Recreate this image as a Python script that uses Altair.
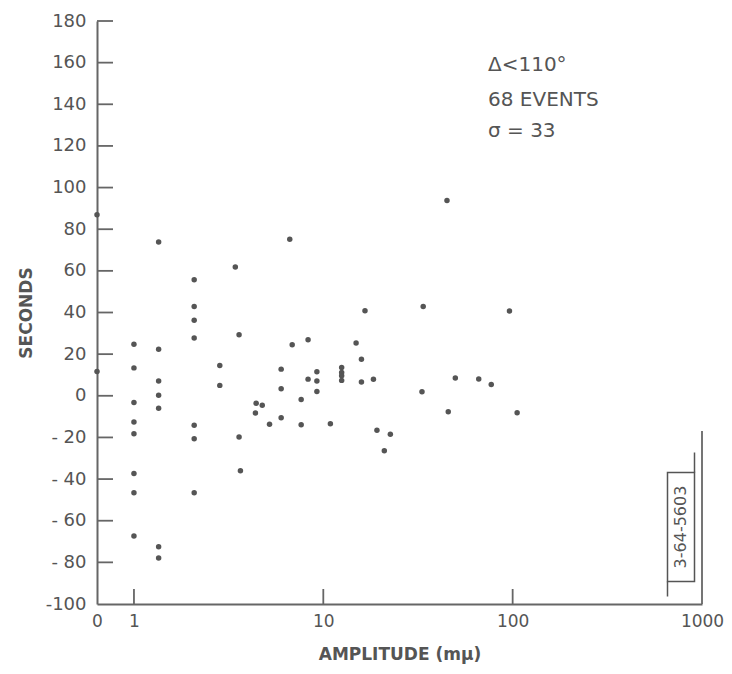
import altair as alt
import pandas as pd

# ---- data ----
amplitude = [
    0, 0,
    1, 1, 1, 1, 1, 1, 1, 1,
    1.35, 1.35, 1.35, 1.35, 1.35, 1.35, 1.35,
    2.08, 2.08, 2.08, 2.08, 2.08, 2.08, 2.08,
    2.84, 2.84,
    3.43, 3.59, 3.59, 3.65,
    4.38, 4.42, 4.76, 5.20,
    5.99, 5.99, 5.99,
    6.65, 6.85,
    7.64, 7.64,
    8.31, 8.31,
    9.25, 9.25, 9.25,
    10.9,
    12.5, 12.5, 12.5, 12.5,
    14.9, 15.9, 15.9, 16.6, 18.4, 19.2, 21.0, 22.6,
    33.2, 33.7, 45.0, 45.7, 49.8, 66.2, 77.1, 96.2, 105.6,
]
seconds = [
    86.9, 11.7,
    24.8, 13.4, -3.2, -12.6, -18.2, -37.3, -46.6, -67.3,
    73.9, 22.4, 7.1, 0.3, -6.0, -72.5, -77.9,
    55.7, 42.9, 36.3, 27.8, -14.2, -20.6, -46.6,
    14.6, 5.0,
    61.8, 29.3, -19.8, -36.0,
    -8.3, -3.6, -4.5, -13.7,
    12.8, 3.4, -10.5,
    75.2, 24.5,
    -1.8, -13.9,
    26.9, 8.0,
    11.5, 7.1, 2.1,
    -13.4,
    13.6, 11.2, 9.6, 7.4,
    25.4, 17.5, 6.6, 40.8, 7.9, -16.5, -26.4, -18.5,
    1.9, 42.9, 93.8, -7.7, 8.5, 8.1, 5.4, 40.7, -8.2,
]

x_label_values = [0.638, 1, 10, 100, 1000]
y_label_values = list(range(-100, 181, 20))
y_tick_values = list(range(-80, 181, 20))
x_tick_values = [1, 10, 100]
note_lines = ["\u0394<110\u00b0", "68 EVENTS", "\u03c3 = 33"]
stamp_text = "3-64-5603"

XMIN = 0.638
W, H = 605, 583
INK = "#555555"
AXC = "#666666"
FONT = "DejaVu Sans"

xscale = alt.Scale(type="log", domain=[XMIN, 1000], nice=False)
yscale = alt.Scale(domain=[-100, 180], nice=False, zero=False)

xaxis = alt.Axis(
    values=x_label_values, title="AMPLITUDE (m\u03bc)", grid=False, ticks=False, tickSize=0,
    labelExpr="datum.value < 0.9 ? '0' : format(datum.value, 'd')",
    labelFlush=False, labelOverlap=False, labelPadding=9, titlePadding=17,
    labelFontSize=17, labelColor=INK, titleFontSize=17, titleFontWeight="bold",
    titleColor=INK, domainColor=AXC, domainWidth=2, labelFont=FONT, titleFont=FONT,
)
yaxis = alt.Axis(
    values=y_label_values, title="SECONDS", grid=False, ticks=False, tickSize=0,
    labelExpr="datum.value < 0 ? (datum.value == -100 ? '-100' : '- ' + abs(datum.value)) : datum.label",
    labelFlush=False, labelOverlap=False, labelPadding=11, titlePadding=10,
    labelFontSize=18, labelColor=INK, titleFontSize=17, titleFontWeight="bold",
    titleColor=INK, domainColor=AXC, domainWidth=2, labelFont=FONT, titleFont=FONT,
)

df = pd.DataFrame({"amp": amplitude, "sec": seconds})

points = alt.Chart(df).transform_calculate(
    ampx=f"datum.amp == 0 ? {XMIN} : datum.amp"
).mark_circle(size=30, color=INK, opacity=1).encode(
    x=alt.X("ampx:Q", scale=xscale, axis=xaxis),
    y=alt.Y("sec:Q", scale=yscale, axis=yaxis),
)

yticks = alt.Chart(pd.DataFrame({"sec": y_tick_values})).mark_rule(
    color=AXC, strokeWidth=1.8
).encode(
    y=alt.Y("sec:Q", scale=yscale, axis=yaxis),
    x=alt.value(0), x2=alt.value(16),
)

xticks = alt.Chart(pd.DataFrame({"ampx": x_tick_values})).mark_rule(
    color=AXC, strokeWidth=1.8
).encode(
    x=alt.X("ampx:Q", scale=xscale, axis=xaxis),
    y=alt.value(H), y2=alt.value(H - 15),
)

right_border = alt.Chart(pd.DataFrame({"ampx": [1000]})).mark_rule(
    color=AXC, strokeWidth=1.8
).encode(
    x=alt.X("ampx:Q", scale=xscale, axis=xaxis),
    y=alt.value(H), y2=alt.value(410),
)

stamp_box = alt.Chart(pd.DataFrame({"k": [0]})).mark_rect(
    fillOpacity=0, stroke=INK, strokeWidth=1.5
).encode(
    x=alt.value(570.5), x2=alt.value(597.5), y=alt.value(451.5), y2=alt.value(560.5),
)
stamp_up = alt.Chart(pd.DataFrame({"k": [0]})).mark_rule(color=INK, strokeWidth=1.5).encode(
    x=alt.value(597.5), y=alt.value(431.5), y2=alt.value(451.5)
)
stamp_down = alt.Chart(pd.DataFrame({"k": [0]})).mark_rule(color=INK, strokeWidth=1.5).encode(
    x=alt.value(570.5), y=alt.value(560.5), y2=alt.value(575.5)
)
stamp_label = alt.Chart(pd.DataFrame({"k": [0]})).mark_text(
    angle=270, align="center", baseline="middle", fontSize=16, color=INK, font=FONT
).encode(x=alt.value(584), y=alt.value(506), text=alt.value(stamp_text))

notes = []
for line, yb in zip(note_lines, [50, 85, 116]):
    notes.append(
        alt.Chart(pd.DataFrame({"k": [0]})).mark_text(
            align="left", baseline="alphabetic", fontSize=20, color=INK, font=FONT
        ).encode(x=alt.value(391), y=alt.value(yb), text=alt.value(line))
    )

chart = alt.layer(
    points, yticks, xticks, right_border, stamp_box, stamp_up, stamp_down, stamp_label, *notes
).properties(
    width=W, height=H,
    background="white",
    autosize=alt.AutoSizeParams(type="none"),
    padding={"left": 89, "top": 13, "right": 22, "bottom": 62},
).configure_view(stroke=None)

chart.save("out.html", embed_options={"renderer": "svg", "actions": False})
